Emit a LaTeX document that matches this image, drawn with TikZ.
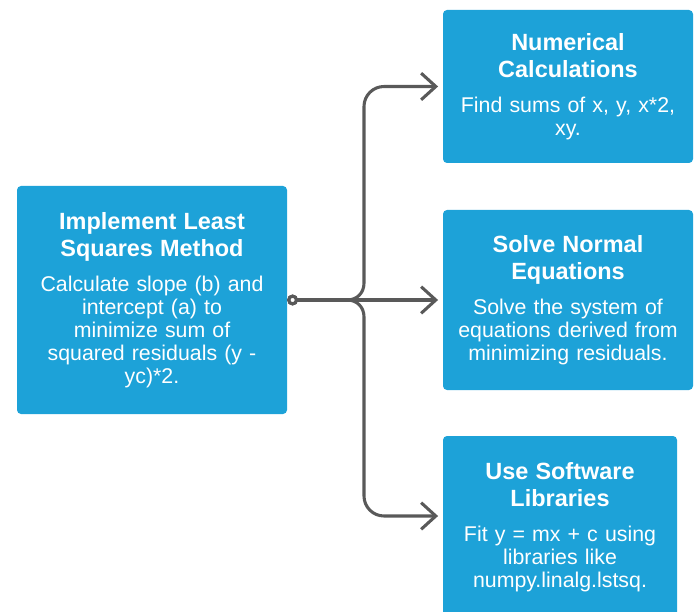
\documentclass[tikz,border=0pt]{standalone}
\usepackage{fontspec}
\setmainfont{Liberation Sans}
\usetikzlibrary{arrows.meta}
\definecolor{boxblue}{HTML}{1DA2D8}
\definecolor{linegray}{HTML}{595959}
\newcommand{\boxtitle}[1]{{\fontsize{17.6}{20}\bfseries #1\par}\vspace{9pt}}
\tikzset{stepbox/.style={rectangle,rounded corners=3pt,fill=boxblue,text=white,
		align=center,inner sep=0pt,font=\fontsize{16}{17.25}\selectfont},
	link/.style={draw=linegray,line width=2.3pt,
		{Circle[length=8pt,width=8pt,fill=white]}-{Straight Barb[length=11pt,width=20pt]},
		shorten >=3.5pt}}

\begin{document}
\begin{tikzpicture}[x=0.75pt,y=0.75pt]
		\useasboundingbox (0,0) rectangle (695,611);
		\begin{scope}[every node/.style={stepbox}]
			\node[text width=202.5pt,minimum height=171pt] (main) at (152,311)
				{\boxtitle{Implement Least\\ Squares Method}
				Calculate slope (b) and\\ intercept (a) to\\ minimize sum of\\
				squared residuals (y -\\ yc)*2.};
			\node[text width=187.5pt,minimum height=114.75pt] (calc) at (568,524.5)
				{\boxtitle{Numerical\\ Calculations}
				Find sums of x, y, x*2,\\ xy.};
			\node[text width=187.5pt,minimum height=135pt] (normal) at (568,311)
				{\boxtitle{Solve Normal\\ Equations}
				Solve the system of\\ equations derived from\\ minimizing residuals.};
			\node[text width=175.5pt,minimum height=136.5pt] (libs) at (560,84)
				{\boxtitle{Use Software\\ Libraries}
				Fit y = mx + c using\\ libraries like\\ numpy.linalg.lstsq.};
		\end{scope}
		\draw[link] (main.east) -- (347,311) .. controls (357,311) and (364,318) .. (364,328)
			[rounded corners=15pt] |- (calc.west);
		\draw[link] (main.east) -- (normal.west);
		\draw[link] (main.east) -- (347,311) .. controls (357,311) and (364,304) .. (364,294)
			[rounded corners=15pt] |- ([yshift=8.25pt]libs.west);
	\end{tikzpicture}
\end{document}
